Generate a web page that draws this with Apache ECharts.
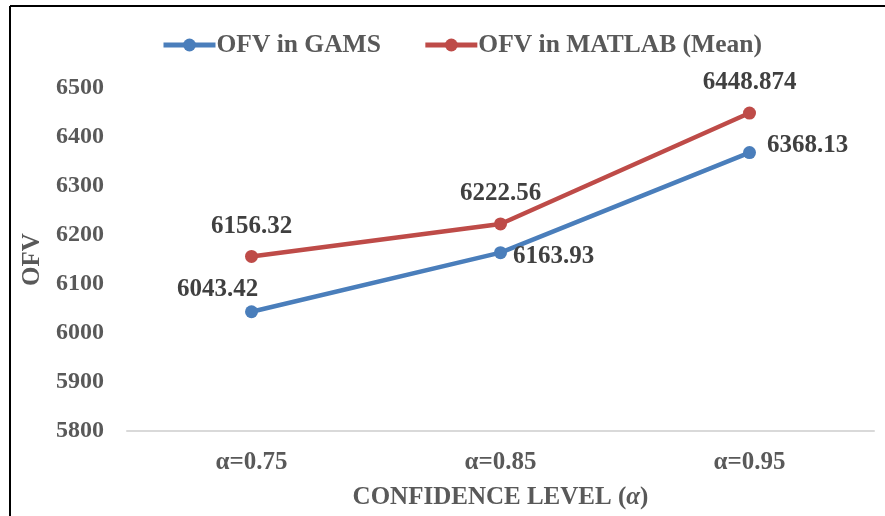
<!DOCTYPE html>
<html>
<head>
<meta charset="utf-8">
<script src="https://cdn.jsdelivr.net/npm/echarts@6/dist/echarts.min.js"></script>
<style>
  html, body { margin: 0; padding: 0; background: #fff; }
  #chart { width: 885px; height: 516px; }
</style>
</head>
<body>
<div id="chart"></div>
<script>
"use strict";

// 数据
let categories = ['α=0.75', 'α=0.85', 'α=0.95'];
let gams = [6043.42, 6163.93, 6368.13];
let matlab = [6156.32, 6222.56, 6448.874];

// 纵轴范围
let y_min = 5800;
let y_max = 6500;
let y_step = 100;

let font = "'Times New Roman', 'Liberation Serif', serif";
let labelColor = '#404040';
let axisColor = '#595959';

let myChart = echarts.init(document.getElementById('chart'));

// 每个点的标签位置
let gamsLabels = [
  { position: 'top', distance: 3, offset: [-34, 0] },
  { position: 'right', distance: 6, offset: [0, 4] },
  { position: 'right', distance: 11, offset: [0, -7] },
];
let matlabLabels = [
  { position: 'top', distance: 11 },
  { position: 'top', distance: 11 },
  { position: 'top', distance: 12 },
];

let option = {
  textStyle: { fontFamily: font },
  graphic: [ // 外框
    { type: 'line', shape: { x1: 10, y1: 6, x2: 10, y2: 516 }, style: { stroke: '#000', lineWidth: 2 } },
    { type: 'line', shape: { x1: 10, y1: 6, x2: 885, y2: 6 }, style: { stroke: '#000', lineWidth: 2 } },
  ],
  legend: {
    top: 27,
    left: 156,
    itemWidth: 52,
    itemHeight: 16,
    itemGap: 42,
    lineStyle: { width: 5 },
    textStyle: { fontFamily: font, fontSize: 25.5, fontWeight: 'bold', color: axisColor, padding: [0, 0, 0, -4] },
    data: ['OFV in GAMS', 'OFV in MATLAB (Mean)'],
  },
  grid: { left: 127, right: 11, top: 88, bottom: 85 },
  xAxis: {
    type: 'category',
    data: categories,
    name: '{n|CONFIDENCE LEVEL (}{a|α}{n|)}',
    nameLocation: 'middle',
    nameGap: 54,
    nameTextStyle: {
      rich: {
        n: { fontFamily: font, fontSize: 25, fontWeight: 'bold', color: axisColor },
        a: { fontFamily: font, fontSize: 25, fontWeight: 'bold', fontStyle: 'italic', color: axisColor },
      },
    },
    axisLine: { lineStyle: { color: '#d9d9d9', width: 2 } },
    axisTick: { length: 6, lineStyle: { color: '#d9d9d9', width: 2 } },
    axisLabel: { margin: 19, fontFamily: font, fontSize: 25, fontWeight: 'bold', color: axisColor },
  },
  yAxis: {
    type: 'value',
    min: y_min,
    max: y_max,
    interval: y_step,
    name: 'OFV',
    nameLocation: 'middle',
    nameGap: 78,
    nameTextStyle: { fontFamily: font, fontSize: 25, fontWeight: 'bold', color: axisColor },
    axisLine: { show: false },
    axisTick: { show: false },
    splitLine: { show: false },
    axisLabel: {
      margin: 23,
      fontFamily: font,
      fontSize: 24,
      fontWeight: 'bold',
      color: axisColor,
      formatter: function (value) {
        return String(value);
      },
    },
  },
  series: [
    {
      name: 'OFV in GAMS',
      type: 'line',
      data: gams.map(function (v, i) {
        return { value: v, label: gamsLabels[i] };
      }),
      symbol: 'circle',
      symbolSize: 13,
      color: '#4A7EBB',
      lineStyle: { width: 4.5 },
      label: {
        show: true,
        fontFamily: font,
        fontSize: 25,
        fontWeight: 'bold',
        color: labelColor,
      },
    },
    {
      name: 'OFV in MATLAB (Mean)',
      type: 'line',
      data: matlab.map(function (v, i) {
        return { value: v, label: matlabLabels[i] };
      }),
      symbol: 'circle',
      symbolSize: 13,
      color: '#BE4B48',
      lineStyle: { width: 4.5 },
      label: {
        show: true,
        fontFamily: font,
        fontSize: 25,
        fontWeight: 'bold',
        color: labelColor,
      },
    },
  ],
};

myChart.setOption(option);
</script>
</body>
</html>
